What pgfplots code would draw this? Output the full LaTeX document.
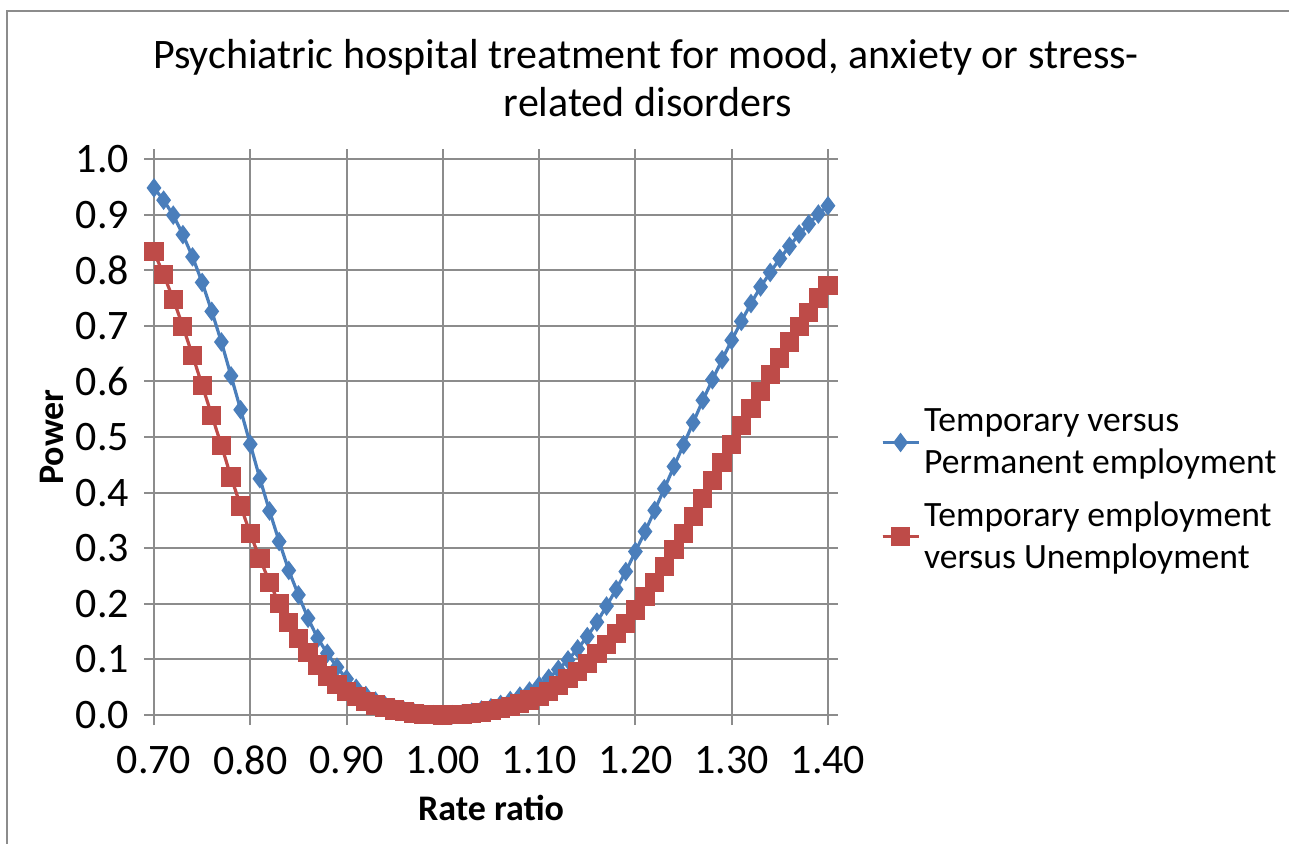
\documentclass[border=0pt]{standalone}
\usepackage{pgfplots}
\pgfplotsset{compat=1.18}
\usepackage{pgfplotstable}
\usepackage{fontspec}
\setmainfont{Carlito}
\definecolor{sblue}{HTML}{4A7EBB}
\definecolor{sred}{HTML}{BE4B48}
\definecolor{gridc}{HTML}{8C8C8C}
\pgfplotstableread{
x y
0.70 0.948
0.71 0.926
0.72 0.899
0.73 0.864
0.74 0.824
0.75 0.778
0.76 0.726
0.77 0.671
0.78 0.610
0.79 0.549
0.80 0.487
0.81 0.425
0.82 0.367
0.83 0.312
0.84 0.260
0.85 0.216
0.86 0.174
0.87 0.138
0.88 0.111
0.89 0.086
0.90 0.065
0.91 0.048
0.92 0.035
0.93 0.025
0.94 0.017
0.95 0.011
0.96 0.007
0.97 0.004
0.98 0.002
0.99 0.0005
1.00 0.000
1.01 0.0006
1.02 0.002
1.03 0.005
1.04 0.009
1.05 0.013
1.06 0.019
1.07 0.026
1.08 0.034
1.09 0.043
1.10 0.053
1.11 0.066
1.12 0.082
1.13 0.099
1.14 0.119
1.15 0.141
1.16 0.167
1.17 0.196
1.18 0.226
1.19 0.258
1.20 0.294
1.21 0.330
1.22 0.368
1.23 0.407
1.24 0.447
1.25 0.486
1.26 0.526
1.27 0.566
1.28 0.603
1.29 0.639
1.30 0.674
1.31 0.708
1.32 0.740
1.33 0.770
1.34 0.796
1.35 0.821
1.36 0.843
1.37 0.865
1.38 0.883
1.39 0.901
1.40 0.916
}\bluedata
\pgfplotstableread{
x y
0.70 0.833
0.71 0.792
0.72 0.748
0.73 0.699
0.74 0.647
0.75 0.593
0.76 0.539
0.77 0.485
0.78 0.428
0.79 0.376
0.80 0.326
0.81 0.281
0.82 0.239
0.83 0.200
0.84 0.167
0.85 0.137
0.86 0.113
0.87 0.090
0.88 0.070
0.89 0.055
0.90 0.043
0.91 0.033
0.92 0.025
0.93 0.018
0.94 0.013
0.95 0.009
0.96 0.006
0.97 0.003
0.98 0.0015
0.99 0.0004
1.00 0.000
1.01 0.0003
1.02 0.001
1.03 0.003
1.04 0.005
1.05 0.008
1.06 0.011
1.07 0.015
1.08 0.020
1.09 0.027
1.10 0.034
1.11 0.042
1.12 0.053
1.13 0.065
1.14 0.078
1.15 0.092
1.16 0.110
1.17 0.127
1.18 0.147
1.19 0.165
1.20 0.189
1.21 0.213
1.22 0.239
1.23 0.267
1.24 0.297
1.25 0.326
1.26 0.357
1.27 0.389
1.28 0.422
1.29 0.454
1.30 0.487
1.31 0.520
1.32 0.551
1.33 0.582
1.34 0.613
1.35 0.642
1.36 0.671
1.37 0.699
1.38 0.724
1.39 0.750
1.40 0.772
}\reddata
\begin{document}
\begin{tikzpicture}
\useasboundingbox (0,0) rectangle (644.5pt,421.5pt);
\draw[gridc, line width=1pt] (3.5pt,-2pt) -- (3.5pt,416pt) -- (644.5pt,416pt);
\node[font=\fontsize{21}{25}\selectfont] at (323pt,393pt) {Psychiatric hospital treatment for mood, anxiety or stress-};
\node[font=\fontsize{21}{25}\selectfont] at (324pt,370.5pt) {related disorders};
\begin{axis}[
  at={(77pt,64pt)}, anchor=south west,
  scale only axis, width=337pt, height=278pt,
  xmin=0.7, xmax=1.4, ymin=0, ymax=1,
  xtick={0.7,0.8,...,1.41}, ytick={0,0.1,...,1.01},
  /pgf/number format/assume math mode=true,
  xticklabel style={/pgf/number format/.cd,fixed,fixed zerofill,precision=2,/tikz/.cd,yshift=-7pt},
  yticklabel style={/pgf/number format/.cd,fixed,fixed zerofill,precision=1,/tikz/.cd,xshift=-4pt},
  ticklabel style={font=\fontsize{21}{25}\selectfont},
  tick align=outside, major tick length=5pt,
  tick style={gridc, line width=1pt},
  grid=major, major grid style={gridc, line width=1pt},
  axis line style={gridc, line width=1pt},
  xlabel={\textbf{Rate ratio}}, ylabel={\textbf{Power}},
  label style={font=\fontsize{18}{21}\selectfont},
  xlabel style={at={(axis description cs:0.5,-0.1673)},anchor=center},
  ylabel style={at={(axis description cs:-0.1513,0.5)},anchor=center},
  clip=false,
  legend style={draw=none, fill=none, at={(1.078,0.405)}, anchor=west,
    font=\fontsize{17.8}{21}\selectfont, cells={align=left, anchor=west},
    row sep=8.5pt, inner xsep=0pt},
  legend image code/.code={
    \draw[#1] (0pt,0pt) -- (9pt,0pt);
    \draw[#1,mark repeat=2,mark phase=2] plot coordinates {(0pt,0pt) (9pt,0pt) (18pt,0pt)};
  },
]
\addplot[sblue, line width=1.6pt, mark=diamond*, mark size=3.6pt, mark options={solid}] table[x=x,y=y] {\bluedata};
\addlegendentry{Temporary versus\\Permanent employment}
\addplot[sred, line width=1.6pt, mark=square*, mark size=4pt, mark options={solid}] table[x=x,y=y] {\reddata};
\addlegendentry{Temporary employment\\versus Unemployment}
\end{axis}
\end{tikzpicture}
\end{document}
